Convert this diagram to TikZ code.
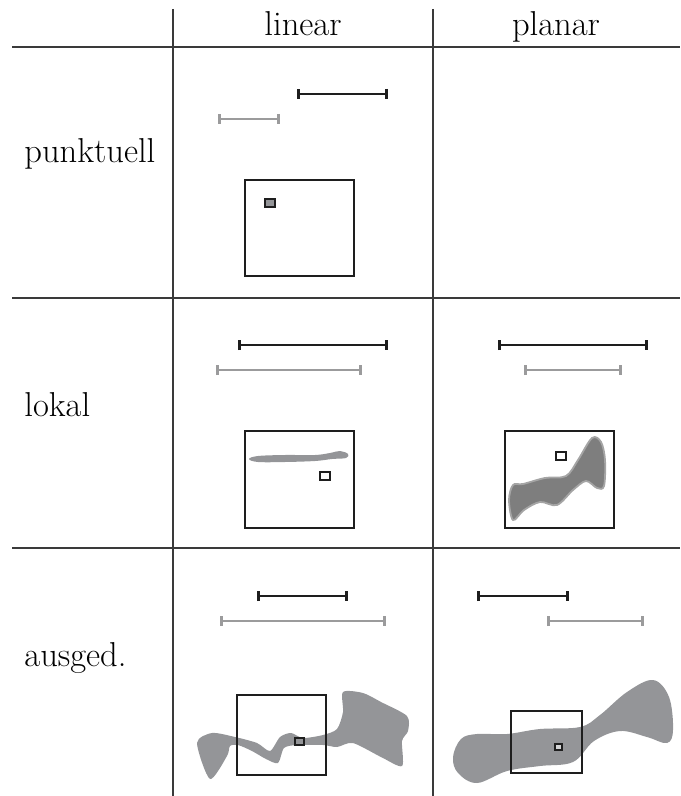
\documentclass[tikz,border=0pt]{standalone}
\usetikzlibrary{arrows.meta}
\definecolor{rule}{HTML}{3A3A3A}
\definecolor{ink}{HTML}{1E1E1E}
\definecolor{lightbar}{HTML}{9B9B9C}
\definecolor{blobgray}{HTML}{949598}
\definecolor{blobdark}{HTML}{7E7E7E}
\definecolor{blobrim}{HTML}{A5A5A5}
\tikzset{
  tablerule/.style={draw=rule, line width=0.65pt},
  label/.style={inner sep=0pt, font=\fontsize{17.28}{20}\selectfont},
  darkbar/.style={draw=ink, line width=1.45pt, {Bar[width=5pt,length=1.3pt]}-{Bar[width=5pt,length=1.3pt]}},
  greybar/.style={draw=lightbar, line width=1.45pt, {Bar[width=5pt,length=1.3pt]}-{Bar[width=5pt,length=1.3pt]}},
  frame/.style={draw=ink, line width=1.35pt},
  marker/.style={draw=ink, line width=1.35pt},
  blob/.style={fill=blobgray, draw=none},
}
\begin{document}
\begin{tikzpicture}[x=0.5pt,y=-0.5pt]
\useasboundingbox (0,0) rectangle (680,796);

% table rules
\draw[tablerule] (173,9) -- (173,796);
\draw[tablerule] (433,9) -- (433,796);
\draw[tablerule] (12,47) -- (680,47);
\draw[tablerule] (12,298) -- (680,298);
\draw[tablerule] (12,548) -- (680,548);

% headers
\node[label, anchor=base] (hlin) at (303,36) {linear};
\node[label, anchor=base] (hpla) at (556,36) {planar};
\node[label, anchor=base west] (rpkt) at (24,163) {punktuell};
\node[label, anchor=base west] (rlok) at (24,416) {lokal};
\node[label, anchor=base west] (raus) at (24,666) {ausged.};

% punktuell / linear
\draw[darkbar] (297,94) -- (388,94);
\draw[greybar] (218,119) -- (280,119);
\draw[frame] (245,180) rectangle (354,276);
\draw[marker, fill=blobgray] (265,199) rectangle (275,207);

% lokal / linear
\draw[darkbar] (238,345) -- (388,345);
\draw[greybar] (216,370) -- (362,370);
\draw[frame] (245,431) rectangle (354,528);
\fill[blobgray] plot[smooth cycle, tension=0.6] coordinates {
  (249,459) (258,456) (285,455) (315,455) (330,453) (340,451) (348,454)
  (346,458) (332,459) (315,461) (285,462) (258,462)};
\draw[marker, fill=white] (320,472) rectangle (330,480);

% lokal / planar
\draw[darkbar] (498,345) -- (648,345);
\draw[greybar] (524,370) -- (622,370);
\draw[frame] (505,431) rectangle (614,528);
\draw[fill=blobdark, draw=blobrim, line width=0.9pt] plot[smooth cycle, tension=0.55] coordinates {
  (509,500) (513,485) (523,484) (545,478) (566,476) (578,460) (592,438)
  (601,442) (605,460) (604,486) (597,488) (586,481) (573,490) (557,505)
  (540,502) (524,510) (513,520)};
\draw[marker, fill=white] (556,452) rectangle (566,460);

% ausgedehnt / linear
\draw[darkbar] (257,596) -- (348,596);
\draw[greybar] (220,621) -- (386,621);
\fill[blobgray] plot[smooth cycle, tension=0.45] coordinates {
  (197,743) (212,733) (235,737) (257,743) (270,751) (280,737) (291,733)
  (303,738) (323,735) (337,729) (343,712) (343,692) (363,693) (381,702)
  (407,716) (408,731) (402,741) (402,766) (381,757) (353,743) (337,747)
  (323,745) (297,745) (284,748) (278,763) (266,759) (252,751) (238,745)
  (230,746) (227,756) (210,779)};
\draw[frame] (237,695) rectangle (326,775);
\draw[marker, fill=blobgray] (295,738) rectangle (304,745);

% ausgedehnt / planar
\draw[darkbar] (477,596) -- (569,596);
\draw[greybar] (547,621) -- (644,621);
\fill[blobgray] plot[smooth cycle, tension=0.6] coordinates {
  (453,757) (461,739) (477,734) (507,734) (540,729) (580,727) (600,715)
  (627,692) (653,680) (669,697) (673,730) (667,743) (647,737) (620,731)
  (594,741) (573,762) (540,766) (507,771) (477,783) (458,773)};
\draw[frame] (511,711) rectangle (582,773);
\draw[marker, fill=blobgray!40] (555,744) rectangle (562,750);
\end{tikzpicture}
\end{document}
